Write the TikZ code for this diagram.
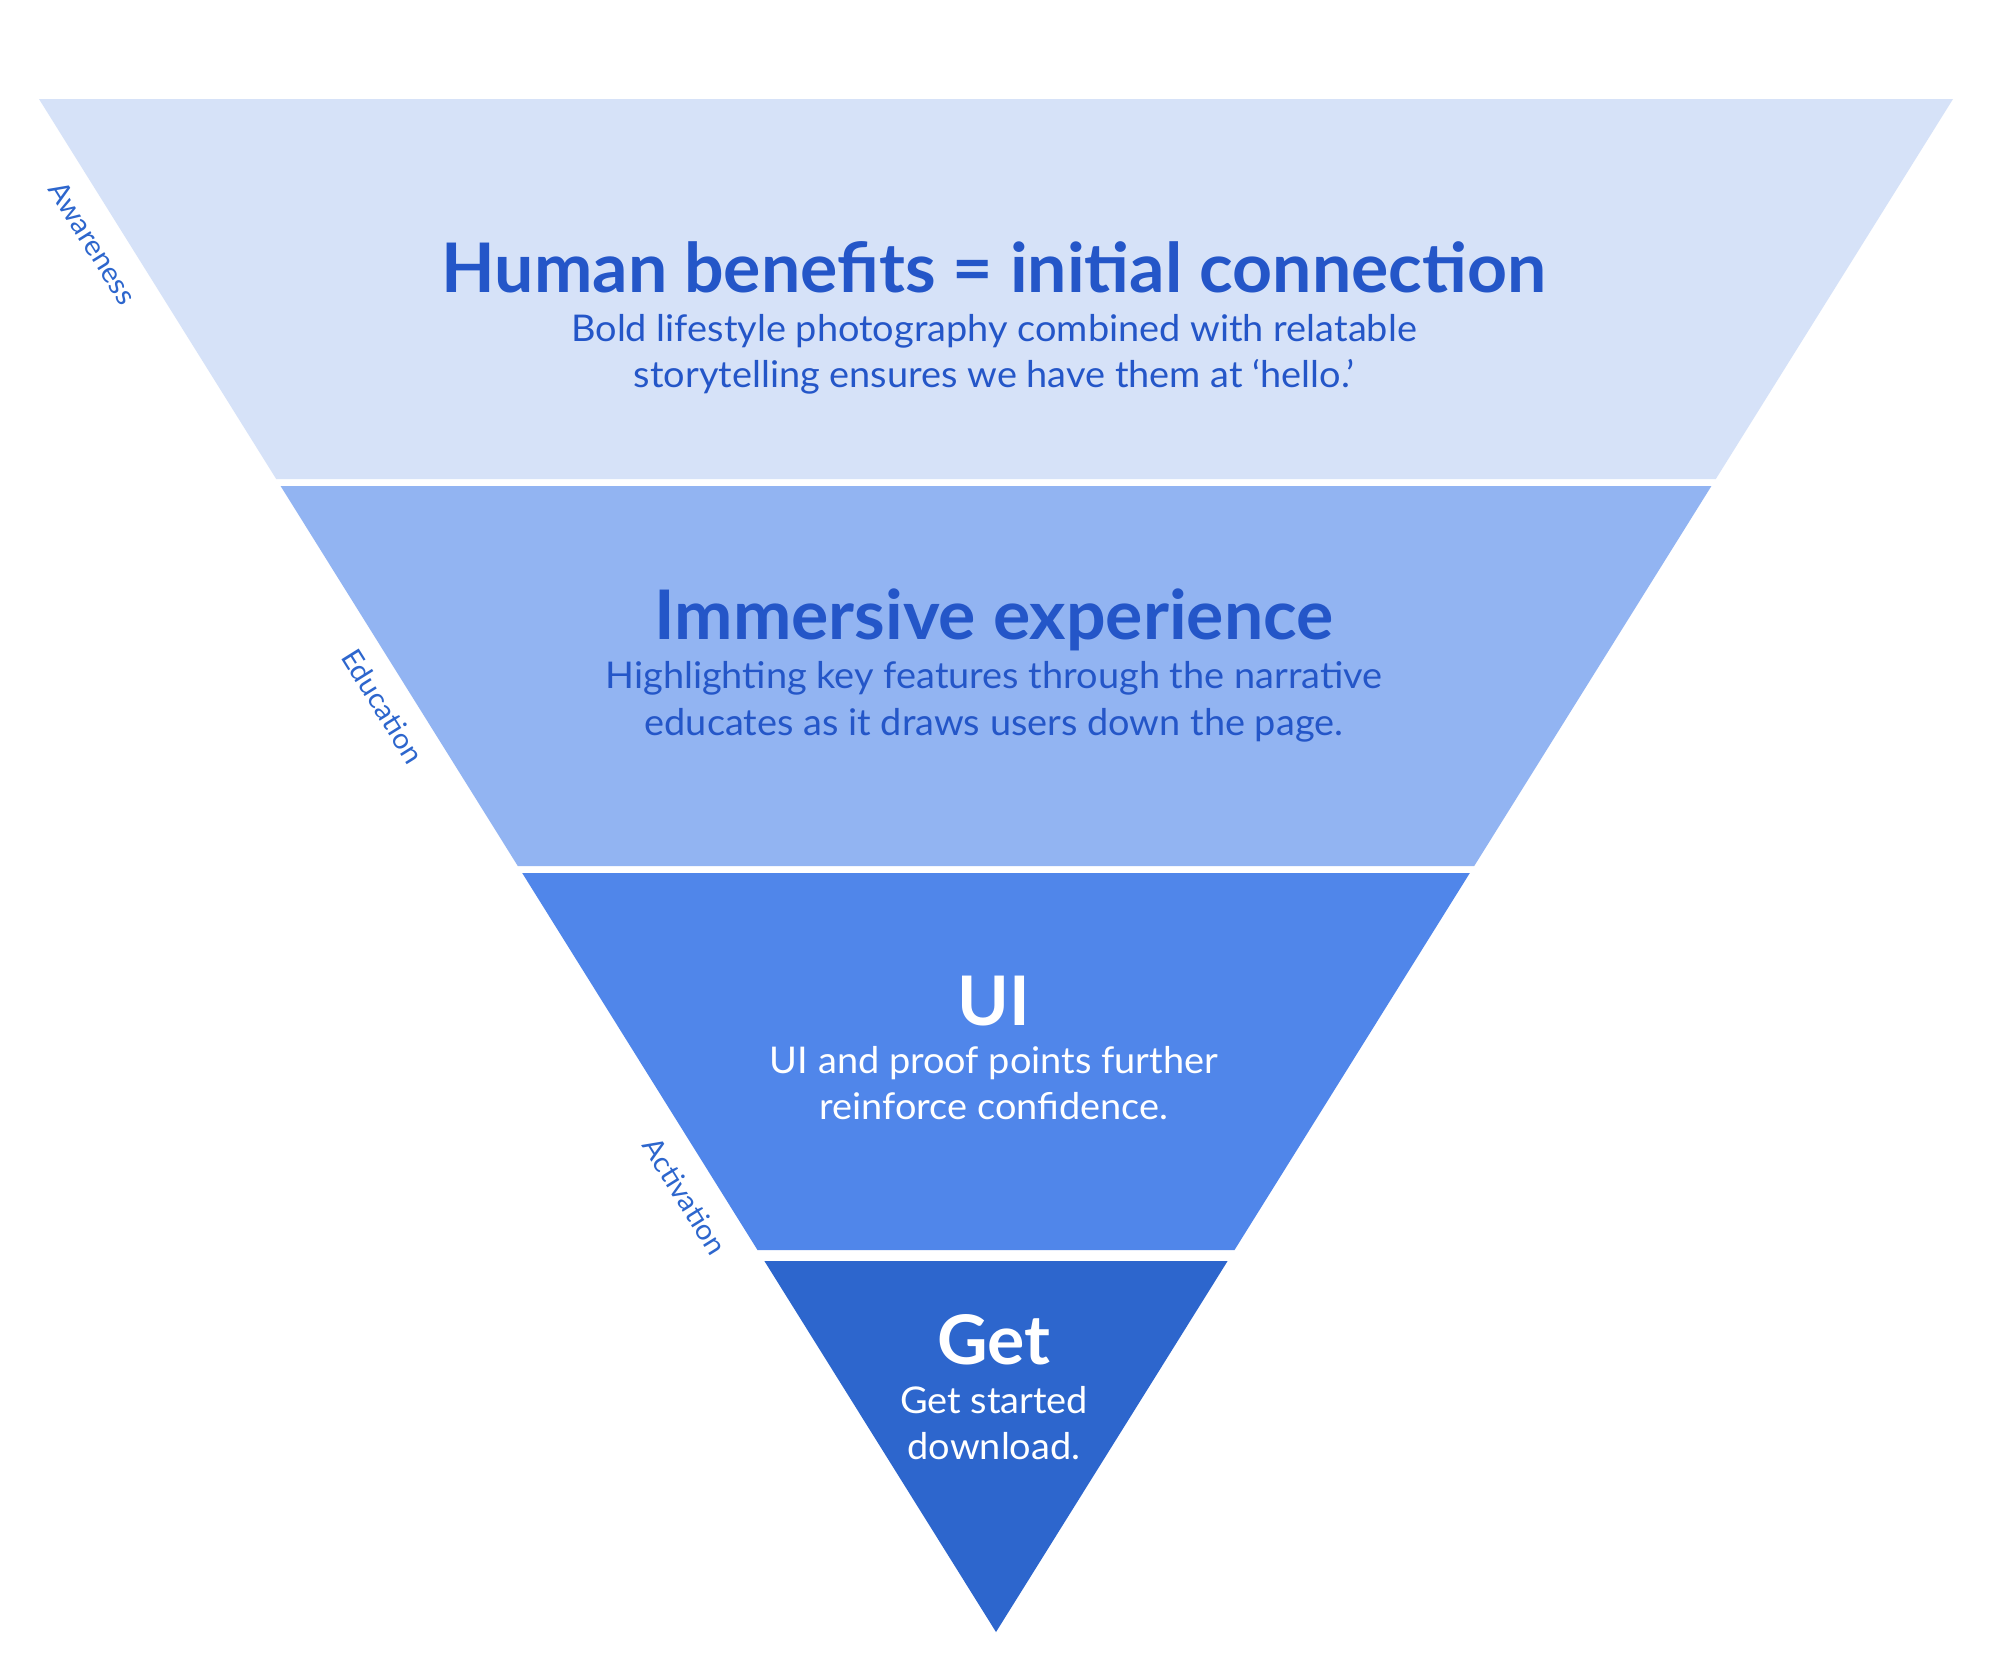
\documentclass[tikz,border=0pt]{standalone}
\usepackage{fontspec}
\setmainfont{Lato}[FakeStretch=1.03]
\newfontfamily\ttlfont{Lato}[FakeStretch=1.02]
\definecolor{bandA}{HTML}{D6E2F8}
\definecolor{bandB}{HTML}{92B4F2}
\definecolor{bandC}{HTML}{5086EA}
\definecolor{bandD}{HTML}{2D66CD}
\definecolor{ink}{HTML}{2456C8}
\definecolor{sideink}{HTML}{2D66CD}
\tikzset{
  ttl/.style={anchor=base, inner sep=0pt, font=\ttlfont\fontsize{34.2pt}{40pt}\selectfont\bfseries},
  sub/.style={anchor=base, inner sep=0pt, font=\fontsize{18.4pt}{23pt}\selectfont},
  side/.style={inner sep=0pt, rotate=-58, text=sideink, font=\fontsize{14.2pt}{17pt}\selectfont}
}
\begin{document}
\begin{tikzpicture}[x=0.5pt,y=-0.5pt]
\useasboundingbox (0,0) rectangle (2000,1662);
\fill[white] (0,0) rectangle (2000,1662);
% bands
\fill[bandA] (39,99) -- (1953,99) -- (1715.8,479) -- (276.2,479) -- cycle;
\fill[bandB] (280.6,486) -- (1711.4,486) -- (1474.2,866) -- (517.8,866) -- cycle;
\fill[bandC] (522.2,873) -- (1469.8,873) -- (1234.5,1250) -- (757.5,1250) -- cycle;
\fill[bandD] (764.4,1261) -- (1227.6,1261) -- (996,1632) -- cycle;
% band 1
\node[ttl, text=ink] (t1) at (994,292) {Human benefits = initial connection};
\node[sub, text=ink] (s1a) at (994,341) {Bold lifestyle photography combined with relatable};
\node[sub, text=ink] (s1b) at (994,387) {storytelling ensures we have them at ‘hello.’};
% band 2
\node[ttl, text=ink] (t2) at (994,639) {Immersive experience};
\node[sub, text=ink] (s2a) at (994,688) {Highlighting key features through the narrative};
\node[sub, text=ink] (s2b) at (994,735) {educates as it draws users down the page.};
% band 3
\node[ttl, text=white] (t3) at (994,1025) {UI};
\node[sub, text=white] (s3a) at (994,1073) {UI and proof points further};
\node[sub, text=white] (s3b) at (994,1119) {reinforce confidence.};
% band 4
\node[ttl, text=white] (t4) at (994,1364) {Get};
\node[sub, text=white] (s4a) at (994,1413) {Get started};
\node[sub, text=white] (s4b) at (994,1459) {download.};
% side labels
\node[side] (l1) at (93,243) {Awareness};
\node[side] (l2) at (383,706) {Education};
\node[side] (l3) at (685,1196) {Activation};
\end{tikzpicture}
\end{document}
